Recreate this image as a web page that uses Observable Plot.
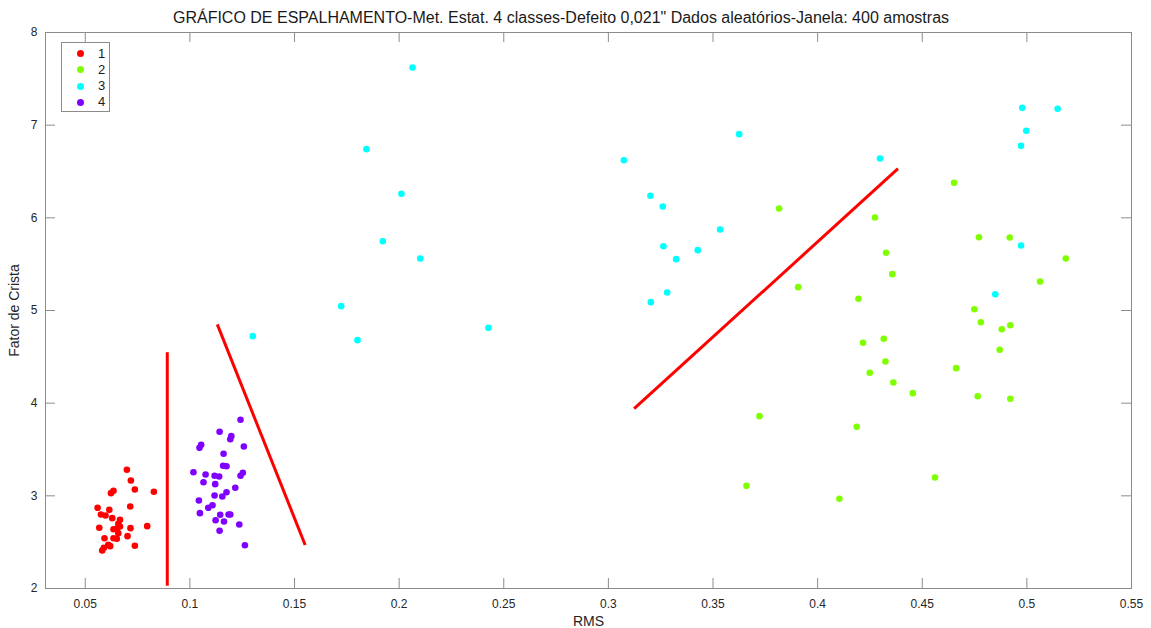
<!DOCTYPE html>
<html>
<head>
<meta charset="utf-8">
<script src="https://cdn.jsdelivr.net/npm/d3@7"></script>
<script src="https://cdn.jsdelivr.net/npm/@observablehq/plot@0.6"></script>
<style>
  body { margin: 0; background: #fff; font-family: "Liberation Sans", Arial, sans-serif; }
  #wrap { position: relative; width: 1151px; height: 628px; overflow: hidden; }
  #title { position: absolute; top: 8px; left: 0; width: 1122px; text-align: center; font-size: 16px; line-height: 20px; color: #1a1a1a; white-space: nowrap; }
  #legend { position: absolute; left: 61px; top: 42px; width: 49px; height: 70px; border: 1px solid #8c8c8c; background: #fff; box-sizing: border-box; }
  .row { position: absolute; left: 0; width: 100%; height: 16px; font-size: 13px; color: #1a1a1a; }
  .sw { position: absolute; left: 15px; top: 4.5px; width: 7px; height: 7px; border-radius: 50%; }
  .lb { position: absolute; left: 36px; top: 0; line-height: 16px; }
</style>
</head>
<body>
<div id="wrap">
  <div id="chart"></div>
  <div id="title"></div>
  <div id="legend"></div>
</div>
<script>
// ---------- DATA ----------
const titleText = "GRÁFICO DE ESPALHAMENTO-Met. Estat. 4 classes-Defeito 0,021\" Dados aleatórios-Janela: 400 amostras";
const xLabel = "RMS";
const yLabel = "Fator de Crista";

const classLabels = ["1", "2", "3", "4"];
const classColors = ["#ff0000", "#80ff00", "#00ffff", "#8000ff"];

const xTicks = [0.05, 0.1, 0.15, 0.2, 0.25, 0.3, 0.35, 0.4, 0.45, 0.5, 0.55];
const xTickLabels = ["0.05", "0.1", "0.15", "0.2", "0.25", "0.3", "0.35", "0.4", "0.45", "0.5", "0.55"];
const yTicks = [2, 3, 4, 5, 6, 7, 8];
const yTickLabels = ["2", "3", "4", "5", "6", "7", "8"];

// class 1 (red): [RMS, Fator de Crista]
const class1 = [
  [0.0699, 3.281], [0.0718, 3.166], [0.0737, 3.069], [0.0828, 3.044], [0.0623, 3.029],
  [0.0635, 3.054], [0.0559, 2.871], [0.0715, 2.885], [0.0575, 2.799], [0.0597, 2.788],
  [0.0615, 2.849], [0.0629, 2.759], [0.0666, 2.742], [0.0658, 2.698], [0.0666, 2.669],
  [0.0567, 2.655], [0.0635, 2.640], [0.0651, 2.648], [0.0716, 2.651], [0.0796, 2.673],
  [0.0658, 2.597], [0.0702, 2.565], [0.0592, 2.543], [0.0635, 2.543], [0.0651, 2.536],
  [0.0610, 2.472], [0.0619, 2.457], [0.0589, 2.439], [0.0581, 2.410], [0.0737, 2.461]
];
// class 2 (green)
const class2 = [
  [0.3816, 6.101], [0.3907, 5.252], [0.4195, 5.126], [0.4652, 6.378], [0.4274, 6.004],
  [0.4327, 5.623], [0.4357, 5.392], [0.4217, 4.652], [0.4316, 4.695], [0.4662, 4.378],
  [0.4324, 4.450], [0.4249, 4.328], [0.4362, 4.223], [0.4455, 4.108], [0.3722, 3.860],
  [0.4187, 3.745], [0.4561, 3.198], [0.3660, 3.108], [0.4104, 2.968], [0.4771, 5.791],
  [0.4918, 5.788], [0.5186, 5.561], [0.5063, 5.313], [0.4749, 5.014], [0.4780, 4.874],
  [0.4921, 4.841], [0.4880, 4.798], [0.4870, 4.576], [0.4765, 4.075], [0.4921, 4.047]
];
// class 3 (cyan)
const class3 = [
  [0.2064, 7.622], [0.1844, 6.741], [0.2011, 6.259], [0.1922, 5.748], [0.2101, 5.561],
  [0.1723, 5.047], [0.2427, 4.813], [0.1301, 4.723], [0.1801, 4.680],
  [0.3625, 6.903], [0.3074, 6.622], [0.3201, 6.238], [0.3260, 6.122], [0.3534, 5.874],
  [0.3263, 5.694], [0.3427, 5.651], [0.3324, 5.554], [0.3281, 5.194], [0.3203, 5.090],
  [0.4298, 6.640],
  [0.4978, 7.187], [0.5147, 7.177], [0.4997, 6.939], [0.4972, 6.777], [0.4972, 5.702],
  [0.4849, 5.176]
];
// class 4 (violet)
const class4 = [
  [0.1242, 3.821], [0.1142, 3.691], [0.1198, 3.644], [0.1193, 3.611], [0.1054, 3.551],
  [0.1046, 3.518], [0.1258, 3.533], [0.1161, 3.454], [0.1159, 3.324], [0.1175, 3.320],
  [0.1017, 3.255], [0.1075, 3.230], [0.1118, 3.216], [0.1140, 3.209], [0.1253, 3.249],
  [0.1242, 3.216], [0.1065, 3.147], [0.1121, 3.126], [0.1217, 3.087], [0.1175, 3.039],
  [0.1155, 2.993], [0.1118, 3.004], [0.1043, 2.950], [0.1088, 2.871], [0.1108, 2.899],
  [0.1048, 2.813], [0.1145, 2.796], [0.1185, 2.799], [0.1193, 2.799], [0.1123, 2.737],
  [0.1163, 2.723], [0.1236, 2.691], [0.1142, 2.623], [0.1263, 2.467]
];

// separating lines (decision boundaries): [x1, y1, x2, y2]
const boundaryA = [0.0892, 2.03, 0.0892, 4.55];
const boundaryB = [0.1131, 4.85, 0.1551, 2.47];
const boundaryC = [0.3123, 3.94, 0.4384, 6.53];

// ---------- BUILD ----------
const classes = [class1, class2, class3, class4];
const points = classes.flatMap((arr, ci) => arr.map(([rms, fc]) => ({rms, fc, cls: classLabels[ci]})));
const boundaries = [boundaryA, boundaryB, boundaryC].map(([x1, y1, x2, y2]) => ({x1, y1, x2, y2}));

const W = 1151, H = 628, mL = 45, mR = 20, mT = 32, mB = 40;
const pw = W - mL - mR, ph = H - mT - mB;
const tickLen = 10;
const axisGray = "#8c8c8c";

const chart = Plot.plot({
  width: W, height: H,
  marginLeft: mL, marginRight: mR, marginTop: mT, marginBottom: mB,
  style: {fontFamily: "'Liberation Sans', Arial, sans-serif", fontSize: "12px", color: "#262626", background: "white", overflow: "visible"},
  x: {domain: [0.031, 0.55]},
  y: {domain: [2, 8]},
  color: {domain: classLabels, range: classColors},
  marks: [
    Plot.frame({stroke: axisGray}),
    Plot.tickX(xTicks, {x: d => d, stroke: axisGray, insetTop: ph - tickLen}),
    Plot.tickX(xTicks, {x: d => d, stroke: axisGray, insetBottom: ph - tickLen}),
    Plot.tickY(yTicks, {y: d => d, stroke: axisGray, insetRight: pw - tickLen}),
    Plot.tickY(yTicks, {y: d => d, stroke: axisGray, insetLeft: pw - tickLen}),
    Plot.axisX({ticks: xTicks, tickSize: 0, tickPadding: 11, tickFormat: d => xTickLabels[xTicks.indexOf(d)],
                label: null, fontSize: 12}),
    Plot.axisX({ticks: [], tickSize: 0, label: xLabel, labelAnchor: "center", labelArrow: "none", fontSize: 14}),
    Plot.axisY({ticks: yTicks, tickSize: 0, tickPadding: 8, tickFormat: d => yTickLabels[yTicks.indexOf(d)],
                label: null, fontSize: 12}),
    Plot.axisY({ticks: [], tickSize: 0, label: yLabel, labelAnchor: "center", labelArrow: "none", labelOffset: 36, fontSize: 14}),
    Plot.dot(points, {x: "rms", y: "fc", fill: "cls", r: 3.3, stroke: null}),
    Plot.link(boundaries, {x1: "x1", y1: "y1", x2: "x2", y2: "y2", stroke: "#ff0000", strokeWidth: 3})
  ]
});
document.getElementById("chart").appendChild(chart);

document.getElementById("title").textContent = titleText;

const legend = document.getElementById("legend");
classLabels.forEach((lab, i) => {
  const row = document.createElement("div");
  row.className = "row";
  row.style.top = (2.5 + i * 16.3) + "px";
  const sw = document.createElement("span");
  sw.className = "sw";
  sw.style.background = classColors[i];
  const lb = document.createElement("span");
  lb.className = "lb";
  lb.textContent = lab;
  row.appendChild(sw);
  row.appendChild(lb);
  legend.appendChild(row);
});
</script>
</body>
</html>
